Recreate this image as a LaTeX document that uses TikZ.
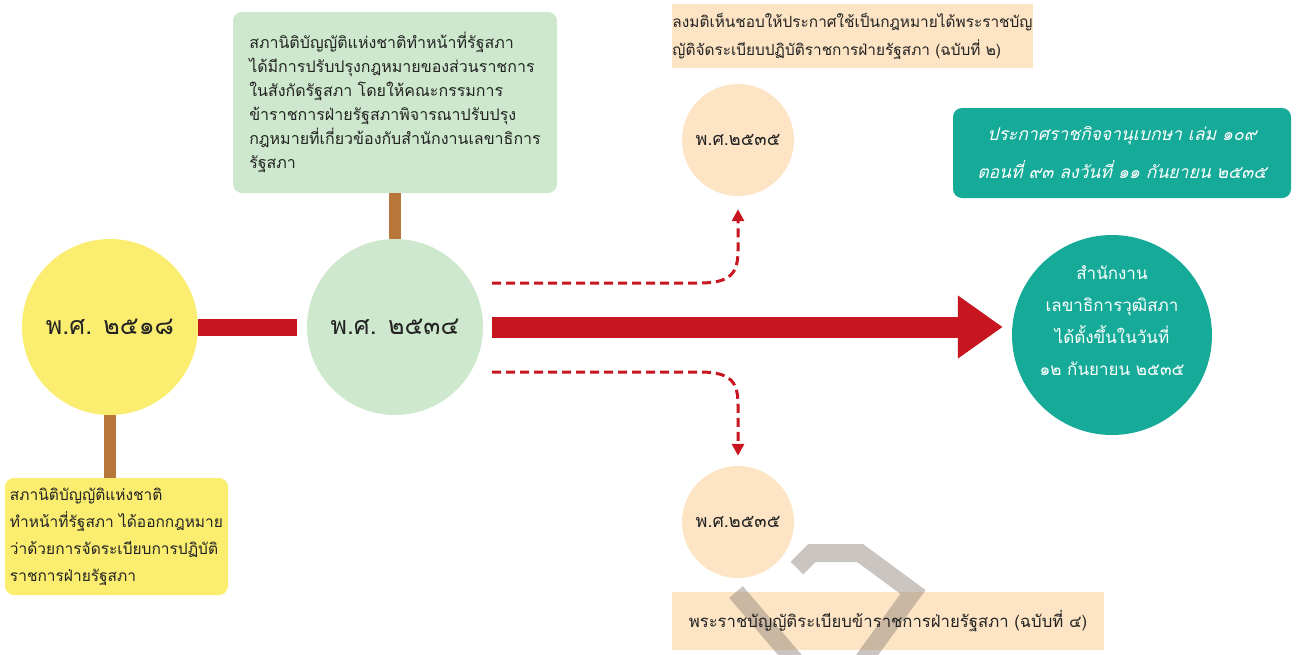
\documentclass[tikz,border=0pt]{standalone}
\usepackage{fontspec}
\newfontfamily\thai[Script=Thai]{Loma}
\newfontfamily\thaisl[Script=Thai,FakeSlant=0.25]{Loma}
\usetikzlibrary{arrows.meta}
\definecolor{cyellow}{RGB}{250,237,112}
\definecolor{cgreen}{RGB}{206,232,206}
\definecolor{cpeach}{RGB}{253,228,196}
\definecolor{cteal}{RGB}{22,170,152}
\definecolor{cred}{RGB}{200,22,32}
\definecolor{cbrown}{RGB}{184,118,58}
\definecolor{ctext}{RGB}{35,35,35}
\definecolor{cwm}{RGB}{150,140,130}
\begin{document}
\begin{tikzpicture}[x=1pt,y=-1pt,
  every node/.style={text=ctext},
  disc/.style={circle, minimum size=#1, inner sep=0pt},
  infobox/.style={rounded corners=9pt, inner sep=0pt, align=left},
  sqbox/.style={inner sep=0pt, align=left},
  bigyear/.style={font=\thai\fontsize{25}{30}\selectfont},
  smallyear/.style={font=\thai\fontsize{18}{22}\selectfont},
  redbar/.style={draw=cred, line width=17pt},
  brownbar/.style={draw=cbrown, line width=12pt},
  dasharrow/.style={draw=cred, line width=3pt, dash pattern=on 9pt off 5pt, -{Triangle[length=12pt,width=12pt]}},
  mainarrow/.style={draw=cred, line width=21pt, -{Triangle[length=45pt,width=60pt]}},
  watermark/.style={draw=cwm, opacity=0.5, line width=18pt},
]
\useasboundingbox (0,0) rectangle (1301,654);

% circles
\node[disc=176pt, fill=cyellow, bigyear] (c1) at (110,327) {พ.ศ. ๒๕๑๘};
\node[disc=176pt, fill=cgreen, bigyear] (c2) at (395,327) {พ.ศ. ๒๕๓๔};
\node[disc=112pt, fill=cpeach, smallyear] (c3) at (738,140) {พ.ศ.๒๕๓๕};
\node[disc=112pt, fill=cpeach, smallyear] (c4) at (738,522) {พ.ศ.๒๕๓๕};
\node[disc=200pt, fill=cteal] (c5) at (1112,335) {};
\node[text=white, align=center, font=\thai\fontsize{17}{32}\selectfont] (c5t) at ([yshift=14pt]c5.center)
  {สำนักงาน\\เลขาธิการวุฒิสภา\\ได้ตั้งขึ้นในวันที่\\๑๒ กันยายน ๒๕๓๕};

% boxes
\node[infobox, fill=cgreen, minimum width=324pt, minimum height=181pt, font=\thai\fontsize{16}{24}\selectfont] (gbox) at (395,102.5)
  {สภานิติบัญญัติแห่งชาติทำหน้าที่รัฐสภา\\ได้มีการปรับปรุงกฎหมายของส่วนราชการ\\ในสังกัดรัฐสภา โดยให้คณะกรรมการ\\ข้าราชการฝ่ายรัฐสภาพิจารณาปรับปรุง\\กฎหมายที่เกี่ยวข้องกับสำนักงานเลขาธิการ\\รัฐสภา};
\node[sqbox, fill=cpeach, minimum width=361pt, minimum height=64pt, font=\thai\fontsize{15.4}{28}\selectfont] (pbox1) at (852.5,36)
  {ลงมติเห็นชอบให้ประกาศใช้เป็นกฎหมายได้พระราชบัญ\\ญัติจัดระเบียบปฏิบัติราชการฝ่ายรัฐสภา (ฉบับที่ ๒)};
\node[infobox, fill=cteal, text=white, align=center, minimum width=338pt, minimum height=90pt, font=\thaisl\fontsize{17.5}{38}\selectfont] (banner) at (1122,153)
  {ประกาศราชกิจจานุเบกษา เล่ม ๑๐๙\\ตอนที่ ๙๓ ลงวันที่ ๑๑ กันยายน ๒๕๓๕};
\node[infobox, fill=cyellow, minimum width=223pt, minimum height=117pt, font=\thai\fontsize{15.5}{27}\selectfont] (ybox) at (116.5,536.5)
  {สภานิติบัญญัติแห่งชาติ\\ทำหน้าที่รัฐสภา ได้ออกกฎหมาย\\ว่าด้วยการจัดระเบียบการปฏิบัติ\\ราชการฝ่ายรัฐสภา};
\node[sqbox, fill=cpeach, minimum width=432pt, minimum height=58pt] (pbox2) at (888,621) {};

% watermark
\draw[watermark, line join=miter] (797,568) -- (812,553) -- (860,553) -- (913,592) -- (862,662);
\draw[watermark] (736,592) -- (796,662);

\node[font=\thai\fontsize{16.7}{24}\selectfont] (pbox2t) at (pbox2.center)
  {พระราชบัญญัติระเบียบข้าราชการฝ่ายรัฐสภา (ฉบับที่ ๔)};

% connectors
\draw[brownbar] (gbox.south) -- (c2.north);
\draw[brownbar] (c1.south) -- (c1.south |- ybox.north);
\draw[redbar] (c1.east) -- ([xshift=-10pt]c2.west);
\coordinate (m1) at (492,327);
\coordinate (m2) at (m1 -| c5.west);
\draw[mainarrow] (m1) -- ([xshift=-9pt]m2);
\coordinate (d1) at (492,283);
\coordinate (d2) at (492,372);
\draw[dasharrow] (d1) -- (700,283) .. controls (732,283) and (738,272) .. (738,250) -- ([yshift=-13pt]c3.south);
\draw[dasharrow] (d2) -- (700,372) .. controls (732,372) and (738,383) .. (738,405) -- ([yshift=10pt]c4.north);
\end{tikzpicture}
\end{document}
